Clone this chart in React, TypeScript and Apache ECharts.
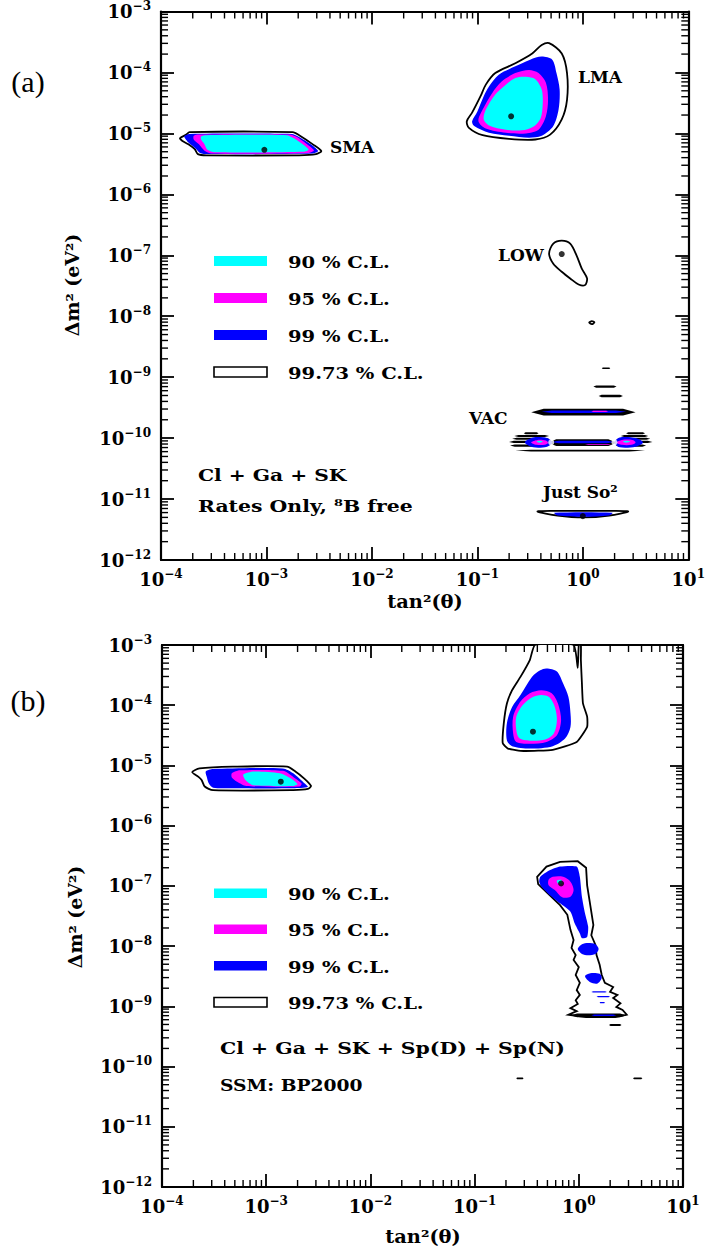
import { useEffect, useRef } from "react";
import * as echarts from "echarts";

// ---- axis values (exponents of 10) ----
const X_EXP = [-4, -3, -2, -1, 0, 1];
const Y_EXP = [-12, -11, -10, -9, -8, -7, -6, -5, -4, -3];
const MINOR_MULT = [2, 3, 4, 5, 6, 7, 8, 9];

// ---- panel (a): contours, [log10 tan2, log10 dm2] ----
const A_SMA_9973 = [[-3.82,-5.08],[-3.76,-5.02],[-3.73,-4.98],[-2.75,-4.98],[-2.69,-5.03],[-2.56,-5.18],[-2.48,-5.29],[-2.53,-5.34],[-2.69,-5.36],[-3.57,-5.36],[-3.65,-5.34],[-3.68,-5.26],[-3.74,-5.18],[-3.80,-5.12]];
const A_SMA_99 = [[-3.78,-5.05],[-3.73,-5.01],[-2.76,-5.01],[-2.70,-5.05],[-2.57,-5.19],[-2.51,-5.29],[-2.56,-5.33],[-3.56,-5.34],[-3.63,-5.32],[-3.67,-5.25],[-3.74,-5.15]];
const A_SMA_95 = [[-3.69,-5.04],[-3.64,-5.02],[-2.78,-5.02],[-2.71,-5.06],[-2.60,-5.20],[-2.55,-5.28],[-2.60,-5.32],[-3.52,-5.33],[-3.59,-5.28],[-3.64,-5.18],[-3.69,-5.10]];
const A_SMA_90 = [[-3.62,-5.05],[-3.57,-5.03],[-2.81,-5.03],[-2.74,-5.08],[-2.64,-5.20],[-2.60,-5.27],[-2.64,-5.30],[-3.49,-5.31],[-3.56,-5.27],[-3.59,-5.17],[-3.62,-5.10]];

const A_LMA_9973 = [[-0.32,-3.52],[-0.20,-3.69],[-0.15,-4.01],[-0.15,-4.45],[-0.20,-4.77],[-0.31,-5.02],[-0.45,-5.10],[-0.70,-5.09],[-0.95,-5.03],[-1.08,-4.91],[-1.10,-4.80],[-1.05,-4.66],[-0.97,-4.39],[-0.92,-4.20],[-0.83,-4.01],[-0.64,-3.85],[-0.48,-3.69],[-0.39,-3.55]];
const A_LMA_99 = [[-0.39,-3.74],[-0.29,-3.79],[-0.25,-4.01],[-0.22,-4.28],[-0.23,-4.61],[-0.28,-4.88],[-0.39,-5.04],[-0.51,-5.07],[-0.70,-5.04],[-0.89,-4.99],[-1.03,-4.88],[-1.05,-4.80],[-1.00,-4.64],[-0.94,-4.39],[-0.89,-4.23],[-0.80,-4.04],[-0.64,-3.90],[-0.50,-3.79]];
const A_LMA_95 = [[-0.51,-3.96],[-0.42,-4.01],[-0.35,-4.17],[-0.33,-4.45],[-0.35,-4.72],[-0.42,-4.94],[-0.54,-5.00],[-0.73,-4.99],[-0.92,-4.92],[-0.99,-4.80],[-0.95,-4.61],[-0.86,-4.34],[-0.77,-4.15],[-0.64,-4.01]];
const A_LMA_90 = [[-0.54,-4.07],[-0.45,-4.11],[-0.39,-4.28],[-0.38,-4.50],[-0.40,-4.75],[-0.47,-4.89],[-0.58,-4.95],[-0.73,-4.94],[-0.89,-4.87],[-0.94,-4.77],[-0.92,-4.61],[-0.83,-4.36],[-0.73,-4.20],[-0.64,-4.09]];

const A_LOW_9973 = [[-0.32,-6.97],[-0.28,-6.81],[-0.20,-6.76],[-0.12,-6.81],[-0.06,-7.00],[-0.01,-7.22],[0.04,-7.38],[0.02,-7.49],[-0.04,-7.48],[-0.12,-7.38],[-0.20,-7.27],[-0.28,-7.14]];
const A_LOW_ISLAND = [[0.06,-8.105],[0.085,-8.08],[0.11,-8.10],[0.085,-8.13]];

const A_JS_9973 = [[-0.43,-11.205],[-0.30,-11.195],[0.31,-11.195],[0.43,-11.205],[0.25,-11.27],[0.01,-11.30],[-0.24,-11.27]];
const A_JS_99 = [[-0.27,-11.225],[0.28,-11.225],[0.25,-11.27],[0.01,-11.29],[-0.24,-11.27]];

const A_VAC_L_99 = [[-0.55,-10.07],[-0.47,-9.99],[-0.34,-10.00],[-0.29,-10.07],[-0.34,-10.14],[-0.47,-10.15]];
const A_VAC_L_95 = [[-0.49,-10.07],[-0.43,-10.03],[-0.35,-10.04],[-0.33,-10.08],[-0.36,-10.11],[-0.44,-10.11]];
const A_VAC_L_90 = [[-0.44,-10.06],[-0.41,-10.045],[-0.38,-10.06],[-0.41,-10.075]];
const A_VAC_R_99 = [[0.30,-10.07],[0.35,-9.99],[0.50,-10.00],[0.57,-10.07],[0.50,-10.14],[0.35,-10.15]];
const A_VAC_R_95 = [[0.32,-10.07],[0.37,-10.03],[0.47,-10.03],[0.50,-10.07],[0.46,-10.11],[0.37,-10.11]];
const A_VAC_R_90 = [[0.38,-10.06],[0.41,-10.045],[0.45,-10.06],[0.41,-10.075]];

// streaks: [x1, x2, yTop, yBottom]
const A_BLACK_STREAKS = [
  [0.18,0.26,-8.84,-8.865],[0.10,0.32,-9.135,-9.175],[0.15,0.38,-9.29,-9.33],
  [-0.49,0.50,-9.52,-9.63],
  [-0.56,-0.42,-9.905,-9.935],[-0.65,-0.32,-9.95,-9.98],[-0.67,-0.32,-9.995,-10.025],[-0.70,-0.32,-10.045,-10.08],[-0.69,-0.32,-10.105,-10.14],
  [0.41,0.59,-9.905,-9.935],[0.36,0.62,-9.95,-9.98],[0.33,0.64,-9.995,-10.025],[0.29,0.66,-10.045,-10.08],[0.31,0.60,-10.105,-10.14],
  [-0.33,0.32,-10.02,-10.13],[-0.64,0.59,-10.19,-10.22],
];
const A_BLUE_STREAKS = [[-0.39,0.41,-9.545,-9.59],[-0.30,0.30,-10.045,-10.085]];
const A_MAGENTA_STREAKS = [[0.08,0.24,-9.55,-9.57],[0.02,0.27,-10.095,-10.11]];

const A_BEST = [[-3.02,-5.27],[-0.68,-4.72],[-0.20,-6.98],[0.00,-11.28]];
const A_WHITE_DOTS = [[-0.30,-10.07],[0.30,-10.07]];

// ---- panel (b) ----
const B_SMA_9973 = [[-3.71,-5.11],[-3.64,-5.05],[-3.32,-5.02],[-2.80,-5.02],[-2.72,-5.10],[-2.64,-5.21],[-2.57,-5.34],[-2.60,-5.39],[-2.74,-5.41],[-3.51,-5.41],[-3.59,-5.35],[-3.62,-5.24],[-3.65,-5.19]];
const B_SMA_99 = [[-3.58,-5.10],[-3.51,-5.06],[-2.84,-5.05],[-2.74,-5.13],[-2.63,-5.30],[-2.60,-5.36],[-2.74,-5.38],[-3.35,-5.38],[-3.51,-5.37],[-3.55,-5.30],[-3.57,-5.19]];
const B_SMA_95 = [[-3.33,-5.13],[-3.25,-5.08],[-2.84,-5.09],[-2.74,-5.19],[-2.66,-5.30],[-2.68,-5.35],[-3.19,-5.34],[-3.28,-5.27],[-3.33,-5.20]];
const B_SMA_90 = [[-3.22,-5.15],[-3.12,-5.10],[-2.87,-5.13],[-2.77,-5.21],[-2.70,-5.31],[-2.74,-5.34],[-3.12,-5.33],[-3.20,-5.24]];

const B_LMA_9973 = [[-0.42,-3.00],[-0.47,-3.25],[-0.56,-3.53],[-0.64,-3.75],[-0.69,-3.97],[-0.72,-4.30],[-0.73,-4.63],[-0.68,-4.72],[-0.53,-4.76],[-0.25,-4.74],[-0.02,-4.61],[0.08,-4.36],[0.08,-4.19],[0.04,-3.97],[0.03,-3.64],[0.02,-3.25],[0.02,-3.00],[0.00,-3.00],[-0.01,-3.38],[-0.05,-3.00]];
const B_LMA_99 = [[-0.31,-3.39],[-0.21,-3.44],[-0.15,-3.64],[-0.10,-3.86],[-0.08,-4.13],[-0.08,-4.36],[-0.13,-4.55],[-0.25,-4.68],[-0.47,-4.72],[-0.64,-4.68],[-0.69,-4.58],[-0.69,-4.30],[-0.64,-4.03],[-0.56,-3.83],[-0.45,-3.53],[-0.37,-3.42]];
const B_LMA_95 = [[-0.36,-3.75],[-0.26,-3.80],[-0.20,-3.97],[-0.17,-4.25],[-0.21,-4.50],[-0.31,-4.61],[-0.47,-4.64],[-0.60,-4.61],[-0.63,-4.47],[-0.63,-4.19],[-0.56,-3.94],[-0.47,-3.80]];
const B_LMA_90 = [[-0.36,-3.83],[-0.28,-3.87],[-0.23,-4.03],[-0.21,-4.25],[-0.24,-4.47],[-0.32,-4.57],[-0.47,-4.59],[-0.57,-4.55],[-0.60,-4.41],[-0.60,-4.19],[-0.54,-4.00],[-0.45,-3.87]];

const B_LOW_9973 = [[-0.40,-6.85],[-0.31,-6.68],[-0.18,-6.60],[-0.01,-6.59],[0.07,-6.70],[0.08,-6.99],[0.11,-7.32],[0.14,-7.65],[0.12,-7.82],[0.16,-7.98],[0.17,-8.15],[0.20,-8.31],[0.22,-8.48],[0.25,-8.61],[0.33,-8.68],[0.30,-8.76],[0.37,-8.81],[0.33,-8.86],[0.40,-8.95],[0.36,-9.01],[0.42,-9.06],[0.46,-9.14],[0.35,-9.18],[0.07,-9.18],[-0.10,-9.14],[-0.02,-9.08],[-0.08,-9.03],[-0.01,-8.96],[-0.03,-8.90],[0.01,-8.81],[-0.02,-8.73],[0.01,-8.61],[-0.03,-8.48],[0.00,-8.35],[-0.05,-8.23],[-0.03,-8.15],[-0.07,-8.03],[-0.05,-7.90],[-0.08,-7.73],[-0.11,-7.48],[-0.18,-7.32],[-0.30,-7.12],[-0.39,-6.97]];
const B_LOW_99 = [[-0.37,-6.85],[-0.29,-6.75],[-0.18,-6.68],[-0.02,-6.68],[0.01,-6.85],[0.03,-7.18],[0.06,-7.46],[0.09,-7.68],[0.08,-7.85],[0.03,-7.87],[0.01,-7.79],[-0.04,-7.62],[-0.08,-7.43],[-0.18,-7.29],[-0.28,-7.15],[-0.36,-7.01],[-0.38,-6.93]];
const B_LOW_BLOB1 = [[-0.01,-8.05],[0.03,-7.97],[0.09,-7.95],[0.16,-7.97],[0.19,-8.05],[0.16,-8.13],[0.09,-8.15],[0.03,-8.13]];
const B_LOW_BLOB2 = [[0.06,-8.50],[0.11,-8.45],[0.20,-8.46],[0.22,-8.53],[0.18,-8.62],[0.11,-8.60]];
const B_LOW_95 = [[-0.29,-6.90],[-0.25,-6.85],[-0.15,-6.85],[-0.08,-6.93],[-0.05,-7.07],[-0.08,-7.18],[-0.16,-7.19],[-0.23,-7.07],[-0.29,-6.99]];
const B_LOW_90 = [[-0.21,-6.91],[-0.17,-6.90],[-0.16,-6.96],[-0.20,-6.96]];

const B_BLACK_STREAKS = [[-0.08,0.46,-9.12,-9.18],[0.29,0.41,-9.295,-9.325],[-0.60,-0.53,-10.18,-10.21],[0.52,0.61,-10.18,-10.21]];
const B_BLUE_STREAKS = [[0.12,0.27,-8.75,-8.77],[0.17,0.30,-8.83,-8.85],[0.20,0.25,-8.93,-8.95],[0.12,0.36,-9.135,-9.16]];

const B_BEST = [[-2.86,-5.27],[-0.44,-4.44],[-0.17,-6.96]];

// ---- styling ----
const FONT = "DejaVu Serif";
const CYAN = "#00ffff";
const MAGENTA = "#ff00ff";
const BLUE = "#0000ff";

type Layer = { pts: number[][]; fill: string; stroke?: string; lw?: number; smooth?: number };

const streakPoly = (s: number[]) => {
  const [x1, x2, yt, yb] = s;
  const t = (x2 - x1) * 0.12;
  const ym = (yt + yb) / 2;
  return [[x1, ym], [x1 + t, yt], [x2 - t, yt], [x2, ym], [x2 - t, yb], [x1 + t, yb]];
};

const outer = (pts: number[][], smooth = 0.3): Layer => ({ pts, fill: "#fff", stroke: "#000", lw: 1.8, smooth });
const fillL = (pts: number[][], fill: string, smooth = 0.3): Layer => ({ pts, fill, smooth });

const LAYERS_A: Layer[] = [
  outer(A_SMA_9973, 0.25), outer(A_LMA_9973), outer(A_LOW_9973), outer(A_LOW_ISLAND), outer(A_JS_9973, 0.3),
  fillL(A_SMA_99, BLUE, 0.25), fillL(A_LMA_99, BLUE), fillL(A_JS_99, BLUE),
  fillL(A_SMA_95, MAGENTA, 0.25), fillL(A_LMA_95, MAGENTA),
  fillL(A_SMA_90, CYAN, 0.25), fillL(A_LMA_90, CYAN),
  ...A_BLACK_STREAKS.map((s) => fillL(streakPoly(s), "#000", 0)),
  ...A_BLUE_STREAKS.map((s) => fillL(streakPoly(s), BLUE, 0)),
  ...A_MAGENTA_STREAKS.map((s) => fillL(streakPoly(s), MAGENTA, 0)),
  fillL(A_VAC_L_99, BLUE), fillL(A_VAC_R_99, BLUE),
  fillL(A_VAC_L_95, MAGENTA), fillL(A_VAC_R_95, MAGENTA),
  fillL(A_VAC_L_90, CYAN), fillL(A_VAC_R_90, CYAN),
];

const LAYERS_B: Layer[] = [
  outer(B_SMA_9973, 0.25), outer(B_LMA_9973, 0.15), outer(B_LOW_9973, 0),
  fillL(B_SMA_99, BLUE, 0.25), fillL(B_LMA_99, BLUE), fillL(B_LOW_99, BLUE, 0.2), fillL(B_LOW_BLOB1, BLUE), fillL(B_LOW_BLOB2, BLUE),
  fillL(B_SMA_95, MAGENTA, 0.25), fillL(B_LMA_95, MAGENTA), fillL(B_LOW_95, MAGENTA),
  fillL(B_SMA_90, CYAN, 0.25), fillL(B_LMA_90, CYAN), fillL(B_LOW_90, CYAN),
  ...B_BLACK_STREAKS.map((s) => fillL(streakPoly(s), "#000", 0)),
  ...B_BLUE_STREAKS.map((s) => fillL(streakPoly(s), BLUE, 0)),
];

const labelRich = {
  b: { fontSize: 18, fontFamily: FONT, fontWeight: "bold", color: "#000" },
  s: { fontSize: 12, fontFamily: FONT, fontWeight: "bold", color: "#000", padding: [0, 0, 11, 0] },
};
const fmt = (v: number) => `{b|10}{s|${v < 0 ? "\u2212" : ""}${Math.abs(v)}}`;

function shapeSeries(gi: number, layers: Layer[]) {
  return {
    type: "custom",
    coordinateSystem: "cartesian2d",
    xAxisIndex: gi * 2,
    yAxisIndex: gi * 2,
    clip: true,
    silent: true,
    z: 2,
    data: layers.map((_, i) => [-1.5, -7.5, i]),
    encode: { x: 0, y: 1 },
    renderItem: (params: any, api: any) => {
      const L = layers[params.dataIndex];
      return {
        type: "polygon",
        shape: { points: L.pts.map((p) => api.coord(p)), smooth: L.smooth || 0 },
        style: { fill: L.fill, stroke: L.stroke || null, lineWidth: L.lw || 0 },
      };
    },
  };
}

function minorSeries(gi: number) {
  const data: number[][] = [];
  for (let d = X_EXP[0]; d < X_EXP[X_EXP.length - 1]; d++)
    for (const k of MINOR_MULT) data.push([d + Math.log10(k), Y_EXP[0], 0]);
  for (let d = Y_EXP[0]; d < Y_EXP[Y_EXP.length - 1]; d++)
    for (const k of MINOR_MULT) data.push([X_EXP[0], d + Math.log10(k), 1]);
  const L = 7;
  return {
    type: "custom",
    coordinateSystem: "cartesian2d",
    xAxisIndex: gi * 2,
    yAxisIndex: gi * 2,
    silent: true,
    z: 5,
    data,
    encode: { x: 0, y: 1 },
    renderItem: (params: any, api: any) => {
      const bl = api.coord([X_EXP[0], Y_EXP[0]]);
      const tr = api.coord([X_EXP[X_EXP.length - 1], Y_EXP[Y_EXP.length - 1]]);
      const st = { stroke: "#000", lineWidth: 1.4 };
      if (api.value(2) === 0) {
        const x = api.coord([api.value(0), Y_EXP[0]])[0];
        return {
          type: "group",
          children: [
            { type: "line", shape: { x1: x, y1: bl[1], x2: x, y2: bl[1] - L }, style: st },
            { type: "line", shape: { x1: x, y1: tr[1], x2: x, y2: tr[1] + L }, style: st },
          ],
        };
      }
      const y = api.coord([X_EXP[0], api.value(1)])[1];
      return {
        type: "group",
        children: [
          { type: "line", shape: { x1: bl[0], y1: y, x2: bl[0] + L, y2: y }, style: st },
          { type: "line", shape: { x1: tr[0], y1: y, x2: tr[0] - L, y2: y }, style: st },
        ],
      };
    },
  };
}

const axisBase = {
  type: "value",
  axisLine: { show: true, onZero: false, lineStyle: { color: "#000", width: 2.2 } },
  axisTick: { show: true, inside: true, length: 13, lineStyle: { color: "#000", width: 1.8 } },
  splitLine: { show: false },
};

function xAxes(gi: number) {
  return [
    { ...axisBase, gridIndex: gi, position: "bottom", min: X_EXP[0], max: X_EXP[X_EXP.length - 1], interval: 1,
      axisLabel: { show: true, formatter: fmt, rich: labelRich, margin: 8, showMinLabel: true, showMaxLabel: true } },
    { ...axisBase, gridIndex: gi, position: "top", min: X_EXP[0], max: X_EXP[X_EXP.length - 1], interval: 1, axisLabel: { show: false } },
  ];
}
function yAxes(gi: number) {
  return [
    { ...axisBase, gridIndex: gi, position: "left", min: Y_EXP[0], max: Y_EXP[Y_EXP.length - 1], interval: 1,
      axisLabel: { show: true, formatter: fmt, rich: labelRich, margin: 10, showMinLabel: true, showMaxLabel: true } },
    { ...axisBase, gridIndex: gi, position: "right", min: Y_EXP[0], max: Y_EXP[Y_EXP.length - 1], interval: 1, axisLabel: { show: false } },
  ];
}

const txt = (text: string, x: number, y: number, size: number, extra: any = {}) => ({
  type: "text",
  x,
  y,
  z: 10,
  silent: true,
  ...extra,
  style: { text, fill: "#000", font: `bold ${size}px '${FONT}'`, textAlign: "left", textVerticalAlign: "middle", ...(extra.style || {}) },
});

const LEGEND_TEXT = ["90 % C.L.", "95 % C.L.", "99 % C.L.", "99.73 % C.L."];
const LEGEND_FILL = [CYAN, MAGENTA, BLUE, "#fff"];

function legend(tops: number[], h: number) {
  const out: any[] = [];
  tops.forEach((t, i) => {
    out.push({
      type: "rect", z: 10, silent: true,
      shape: { x: 214, y: t, width: 53, height: h },
      style: { fill: LEGEND_FILL[i], stroke: i === 3 ? "#000" : null, lineWidth: i === 3 ? 1.6 : 0 },
    });
    out.push(txt(LEGEND_TEXT[i], 288, t + h / 2 + 1, 16, { scaleX: 1.22 }));
  });
  return out;
}

export default function App() {
  const ref = useRef<HTMLDivElement>(null);
  useEffect(() => {
    if (!ref.current) return;
    const chart = echarts.init(ref.current, null, { renderer: "svg" });
    const option: any = {
      animation: false,
      backgroundColor: "#fff",
      grid: [
        { left: 161, top: 8, width: 529, height: 552 },
        { left: 162, top: 645, width: 521, height: 542 },
      ],
      xAxis: [...xAxes(0), ...xAxes(1)],
      yAxis: [...yAxes(0), ...yAxes(1)],
      series: [
        shapeSeries(0, LAYERS_A),
        shapeSeries(1, LAYERS_B),
        minorSeries(0),
        minorSeries(1),
        { type: "scatter", xAxisIndex: 0, yAxisIndex: 0, z: 4, silent: true, symbolSize: 6, itemStyle: { color: "#000" }, data: A_BEST },
        { type: "scatter", xAxisIndex: 0, yAxisIndex: 0, z: 4, silent: true, symbolSize: 6, itemStyle: { color: "#fff" }, data: A_WHITE_DOTS },
        { type: "scatter", xAxisIndex: 2, yAxisIndex: 2, z: 4, silent: true, symbolSize: 6, itemStyle: { color: "#000" }, data: B_BEST },
      ],
      graphic: [
        txt("(a)", 28, 81, 30, { style: { font: "30px 'Liberation Serif'", textAlign: "center" } }),
        txt("(b)", 28, 700, 30, { style: { font: "30px 'Liberation Serif'", textAlign: "center" } }),
        ...legend([256, 293, 330, 367], 10),
        ...legend([888.5, 924.5, 961, 997.5], 9.5),
        txt("Cl + Ga + SK", 198, 475, 17, { scaleX: 1.19 }),
        txt("Rates Only, \u2078B free", 198, 506, 17, { scaleX: 1.2 }),
        txt("Cl + Ga + SK + Sp(D) + Sp(N)", 220, 1048, 17, { scaleX: 1.2 }),
        txt("SSM: BP2000", 220, 1085, 17, { scaleX: 1.1 }),
        txt("SMA", 330, 147, 17),
        txt("LMA", 578, 77, 17),
        txt("LOW", 498, 255, 17),
        txt("VAC", 469, 418, 17),
        txt("Just So\u00b2", 543, 492, 17),
        txt("tan\u00b2(\u03b8)", 425, 601, 18, { scaleX: 1.08, style: { textAlign: "center" } }),
        txt("tan\u00b2(\u03b8)", 423, 1236, 18, { scaleX: 1.08, style: { textAlign: "center" } }),
        txt("\u0394m\u00b2 (eV\u00b2)", 73, 285, 18, { rotation: Math.PI / 2, scaleX: 1.05, style: { textAlign: "center" } }),
        txt("\u0394m\u00b2 (eV\u00b2)", 76, 917, 18, { rotation: Math.PI / 2, scaleX: 1.05, style: { textAlign: "center" } }),
      ],
    };
    chart.setOption(option);
    return () => chart.dispose();
  }, []);
  return <div ref={ref} style={{ position: "absolute", left: 0, top: 0, width: 708, height: 1254 }} />;
}
